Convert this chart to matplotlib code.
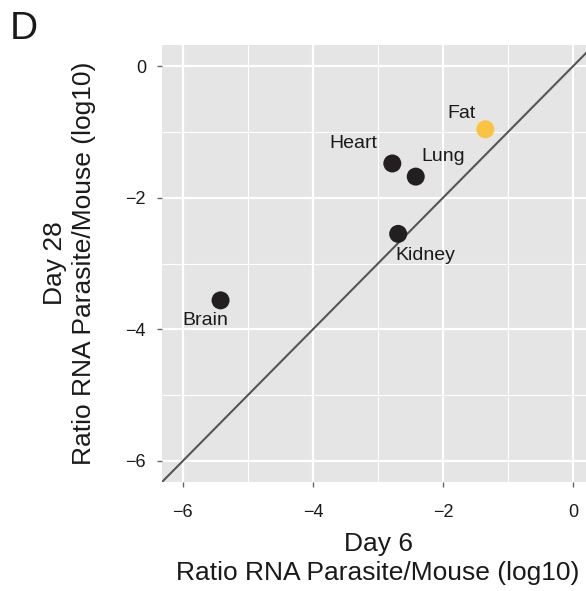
import matplotlib
matplotlib.use("Agg")
import matplotlib.pyplot as plt
import numpy as np

plt.rcParams['font.family'] = ['Liberation Sans', 'DejaVu Sans']

# data
tissues = ["Heart", "Lung", "Fat", "Kidney", "Brain"]
day6 = [-2.78, -2.42, -1.35, -2.69, -5.42]
day28 = [-1.48, -1.68, -0.96, -2.55, -3.56]
colors = ["#231f20", "#231f20", "#fbc440", "#231f20", "#231f20"]
# label offsets in pixels (dx, dy)
offsets = [(-39, 20), (27, 20), (-24, 16), (27, -22), (-15, -20)]

W, H = 586, 591
fig = plt.figure(figsize=(W / 100, H / 100), dpi=100)
ax = fig.add_axes([162 / W, 1 - 482 / H, 432 / W, 437 / H])
ax.set_facecolor("#e5e5e5")

lo, hi = -6.32, 0.32
ax.set_xlim(lo, hi)
ax.set_ylim(lo, hi)

ticks = [-6, -4, -2, 0]
minor = [-5, -3, -1]
ax.set_xticks(ticks)
ax.set_yticks(ticks)
ax.set_xticks(minor, minor=True)
ax.set_yticks(minor, minor=True)
ax.set_xticklabels(["\u22126", "\u22124", "\u22122", "0"])
ax.set_yticklabels(["\u22126", "\u22124", "\u22122", "0"])
ax.grid(which="major", color="white", lw=1.6)
ax.grid(which="minor", color="white", lw=0.8)
ax.set_axisbelow(True)
for s in ax.spines.values():
    s.set_visible(False)
ax.tick_params(which="major", length=3.5, width=1, color="#666666",
               labelsize=13, labelcolor="#1a1a1a")
ax.tick_params(axis="x", pad=12)
ax.tick_params(axis="y", pad=8)
ax.tick_params(which="minor", length=0)

ax.plot([lo, hi], [lo, hi], color="#555555", lw=1.5, zorder=2)
ax.scatter(day6, day28, s=168, c=colors, zorder=3, linewidths=0)

for name, x, y, (dx, dy) in zip(tissues, day6, day28, offsets):
    ax.annotate(name, (x, y), xytext=(dx, dy), textcoords="offset pixels",
                ha="center", va="center", fontsize=14, color="#1a1a1a")

ax.set_xlabel("Day 6\nRatio RNA Parasite/Mouse (log10)", fontsize=19,
              color="#1a1a1a", labelpad=8, linespacing=1.3)
ax.set_ylabel("Day 28\nRatio RNA Parasite/Mouse (log10)", fontsize=19,
              color="#1a1a1a", labelpad=21, linespacing=1.25)

fig.text(10 / W, 1 - 29 / H, "D", fontsize=28, va="center", ha="left",
         color="#1a1a1a")

fig.savefig("out.png", dpi=100)
